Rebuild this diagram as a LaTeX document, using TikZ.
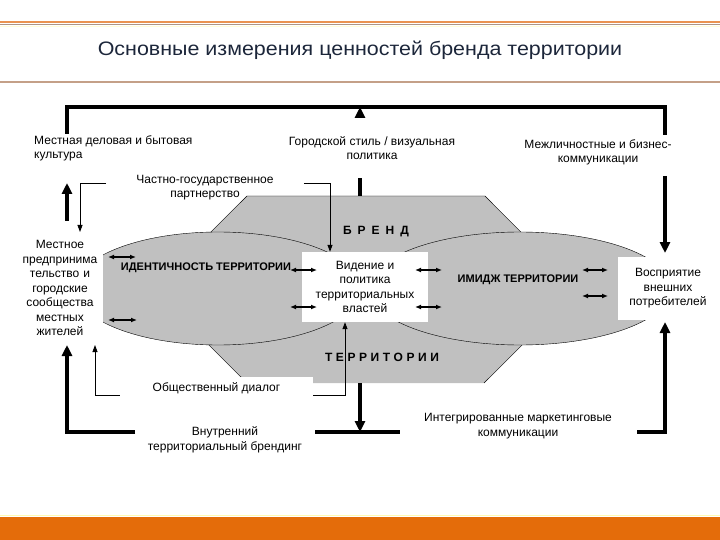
\documentclass[tikz,border=0pt]{standalone}
\usepackage{fontspec}
\setmainfont{Liberation Sans}
\newfontfamily\titlefont[FakeStretch=1.1]{Liberation Sans}
\usetikzlibrary{arrows.meta,calc}

\definecolor{brandgray}{RGB}{192,192,192}
\definecolor{bandorange}{RGB}{228,108,10}
\definecolor{lineorange}{RGB}{234,146,80}
\definecolor{linetan}{RGB}{196,160,136}
\definecolor{titleblue}{RGB}{28,38,58}

\tikzset{
  frame/.style={line width=3.5pt},
  bigtip/.style={-{Triangle[length=11pt,width=10pt]}},
  conn/.style={line width=0.8pt,-{Triangle[length=7pt,width=5pt]}},
  twoway/.style={line width=1.4pt,{Latex[length=6pt,width=5pt]}-{Latex[length=6pt,width=5pt]}},
  lbl/.style={font=\fontsize{12}{14.5}\selectfont,align=center,inner sep=1pt},
  caps/.style={font=\bfseries\fontsize{11}{13}\selectfont,inner sep=0pt},
  spaced/.style={font=\bfseries\fontsize{12}{14}\selectfont,inner sep=0pt}
}

\begin{document}
\begin{tikzpicture}[x=1pt,y=-1pt]
        \useasboundingbox (0,0) rectangle (720,540);
        % header and footer
        \draw[lineorange,line width=2pt] (0,22) -- (720,22);
        \draw[linetan!70!gray,line width=1.2pt] (0,24.5) -- (720,24.5);
        \draw[yellow!15,line width=1pt] (0,27) -- (720,27);
        \draw[linetan,line width=2.5pt] (0,82) -- (720,82);
        \node[font=\titlefont\fontsize{19.5}{22}\selectfont,text=titleblue] (title) at (360,50) {Основные измерения ценностей бренда территории};
        \draw[yellow!30,line width=1.5pt] (0,515.5) -- (720,515.5);
        \fill[bandorange] (0,517) rectangle (720,540);

        % brand hexagon
        \coordinate (H1) at (247,196);
        \coordinate (H2) at (485,196);
        \coordinate (H3) at (578,289.5);
        \coordinate (H4) at (484,383);
        \coordinate (H5) at (247,383);
        \coordinate (H6) at (153,289.5);
        \fill[brandgray] (H1) -- (H2) -- (H3) -- (H4) -- (H5) -- (H6) -- cycle;
        \draw (H4) -- (H3) -- (H2) -- (H1) -- (H6) -- (H5);
        % \draw (H5) -- (H4);

        % identity and image
        \draw[fill=brandgray] (218,288.5) ellipse [x radius=143pt, y radius=56.5pt];
        \draw[fill=brandgray] (520,288.5) ellipse [x radius=151pt, y radius=56.5pt];

        \node[lbl,fill=white,minimum width=126pt,minimum height=70pt] (vision) at (365,287) {Видение и\\политика\\территориальных\\властей};
        \node[lbl,fill=white,minimum width=100pt,minimum height=63pt] (percept) at (668,288.5) {Восприятие\\внешних\\потребителей};
        \node[lbl,fill=white,text width=80pt,inner xsep=3pt,minimum height=106pt] (local) at (60,288) {Местное\\предпринима\\тельство и\\городские\\сообщества\\местных\\жителей};
        \node[lbl,fill=white,minimum width=193pt,minimum height=22pt] (dialog) at (216.5,388) {Общественный диалог};

        \node[caps] (ident) at (206,268) {ИДЕНТИЧНОСТЬ ТЕРРИТОРИИ};
        \node[caps] (image) at (518,280) {ИМИДЖ ТЕРРИТОРИИ};
        \node[spaced] (brand) at (376,232) {\addfontfeature{LetterSpace=50}БРЕНД};
        \node[spaced] (terr) at (382,357) {\addfontfeature{LetterSpace=30}ТЕРРИТОРИИ};

        % outer loop
        \coordinate (TL) at (67,107);
        \coordinate (TR) at (665,107);
        \coordinate (BR) at (665,432);
        \coordinate (BL) at (67,432);
        \draw[frame] (67,134) -- (TL) -- (TR) -- (665,135);
        \draw[frame,bigtip] (665,176) -- (665,253);
        \draw[frame,bigtip] (637,432) -- (BR) -- (665,322);
        \draw[frame] (315,432) -- (400,432);
        \draw[frame,bigtip] (135,432) -- (BL) -- (67,345);
        \draw[frame,bigtip] (67,221) -- (67,183);
        \draw[frame,bigtip] (360,196) -- (360,107);
        \draw[frame,bigtip] (360,383) -- (360,432);

        \node[lbl,align=left,anchor=north west] (culture) at (33,134) {Местная деловая и бытовая\\культура};
        \node[lbl,fill=white,minimum height=60pt] (style) at (372,148) {Городской стиль / визуальная\\политика};
        \node[lbl] (inter) at (598,152.5) {Межличностные и бизнес-\\коммуникации};
        \node[lbl] (internal) at (225,440) {Внутренний\\территориальный брендинг};
        \node[lbl] (imc) at (518,426) {Интегрированные маркетинговые\\коммуникации};
        \node[lbl,inner xsep=30pt] (partner) at (205,187.5) {Частно-государственное\\партнерство};

        % thin links
        \draw[conn] ([yshift=4.5pt]partner.west) -| (80,232);
        \draw[conn] ([yshift=4.5pt]partner.east) -| ([xshift=-35pt]vision.north);
        \draw[conn] ([yshift=-7pt]dialog.west) -| (95,345);
        \draw[conn] ([yshift=-7pt]dialog.east) -| ([xshift=-20pt]vision.south);

        \foreach \xa/\xb/\yy in {108/136/257, 108/137/320, 290/317/270, 290/317/307,
                                  415/442/270, 415/442/307, 582/608/270, 582/608/296}
          \draw[twoway] (\xa,\yy) -- (\xb,\yy);
\end{tikzpicture}
\end{document}
